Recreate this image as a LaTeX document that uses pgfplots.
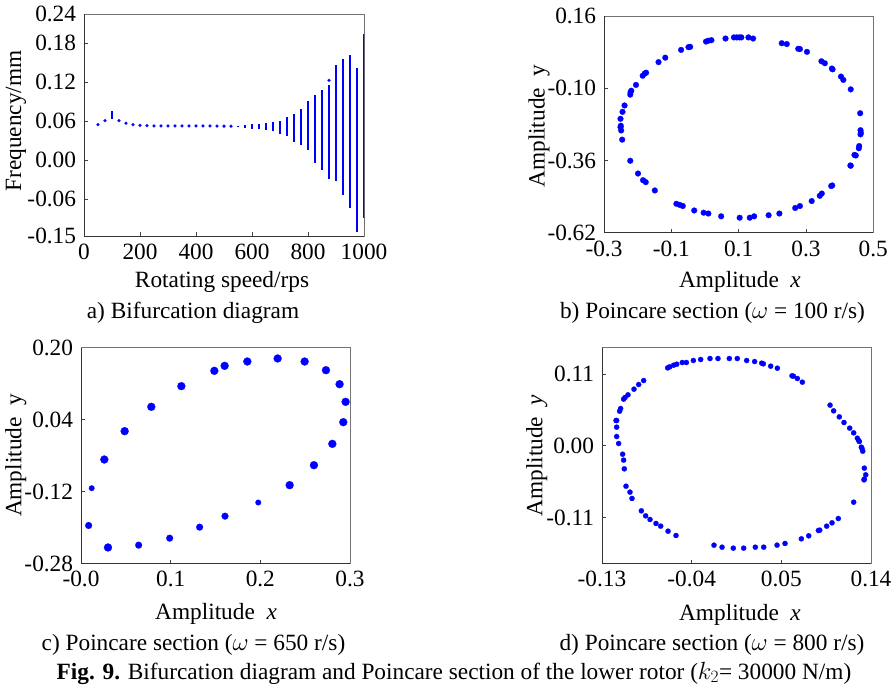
\documentclass[border=0pt]{standalone}
\usepackage{fontspec}
\setmainfont{Liberation Serif}
\usepackage{pgfplots}
\pgfplotsset{compat=1.18}
\pgfplotsset{
  myax/.style={
    scale only axis, anchor=south west,
    axis line style={draw=black!55, line width=0.8pt},
    tick align=inside, xtick pos=left, ytick pos=left,
    major tick length=4pt,
    tick style={draw=black!75, line width=0.8pt},
  },
  mydot/.style={only marks, mark=*, draw=none, fill=blue, mark options={draw=blue, fill=blue, line width=0.2pt}},
}
\newcommand{\darkframe}{\draw[black!80, line width=0.9pt] (rel axis cs:0,1) -- (rel axis cs:0,0) -- (rel axis cs:1,0);}
\begin{document}
\fontsize{23.3}{28}\selectfont
\begin{tikzpicture}
\useasboundingbox (0pt,0pt) rectangle (895pt,-686pt);

% ---------------- a) Bifurcation diagram ----------------
\begin{axis}[myax, at={(84pt,-236pt)}, width=280pt, height=222pt,
  xmin=0, xmax=1000, ymin=-0.117, ymax=0.2246,
  xtick={0,200,400,600,800,1000}, xticklabels={0,200,400,600,800,1000},
  ytick={-0.117,-0.06,0,0.06,0.12,0.18,0.2246},
  yticklabels={-0.15,-0.06,0.00,0.06,0.12,0.18,0.24},
  xlabel={Rotating speed/rps}, ylabel={Frequency/mm},
  xlabel style={at={(axis description cs:0.493,-0.208)}, anchor=center},
  ylabel style={at={(axis description cs:-0.243,0.518)}, anchor=center},
]
\addplot[blue, line width=2.8pt, mark=none, unbounded coords=jump] coordinates {
(100,0.0626) (100,0.0754) (100,nan)
(550,0.0503) (550,0.0528) (550,nan)
(575,0.0487) (575,0.0533) (575,nan)
(600,0.0477) (600,0.0554) (600,nan)
(625,0.0472) (625,0.0559) (625,nan)
(650,0.0456) (650,0.0564) (650,nan)
(675,0.0441) (675,0.0585) (675,nan)
(700,0.0405) (700,0.0605) (700,nan)
(725,0.0374) (725,0.0667) (725,nan)
(750,0.0277) (750,0.0713) (750,nan)
(775,0.0231) (775,0.0790) (775,nan)
(800,0.0154) (800,0.0913) (800,nan)
(825,-0.0041) (825,0.1000) (825,nan)
(850,-0.0159) (850,0.1072) (850,nan)
(875,-0.0292) (875,0.1149) (875,nan)
(900,-0.0323) (900,0.1461) (900,nan)
(925,-0.0538) (925,0.1549) (925,nan)
(950,-0.0733) (950,0.1615) (950,nan)
(975,-0.1103) (975,0.1420) (975,nan)
(1000,-0.0887) (1000,0.1938)
};
\addplot[mydot, mark size=1.5pt] coordinates {
(50,0.0543) (75,0.0605) (125,0.0605) (150,0.0565) (175,0.0543) (200,0.0534)
(225,0.0528) (250,0.0523) (275,0.0523) (300,0.0523) (325,0.0523) (350,0.0523)
(375,0.0523) (400,0.0523) (425,0.0523) (450,0.0523) (475,0.0522) (500,0.0521)
(525,0.0520) (875,0.1226)
};
\darkframe
\end{axis}

% ---------------- b) Poincare 100 ----------------
\begin{axis}[myax, at={(604pt,-232.7pt)}, width=269.3pt, height=216.7pt,
  xmin=-0.3, xmax=0.5, ymin=-0.62, ymax=0.16,
  xtick={-0.3,-0.1,0.1,0.3,0.5}, xticklabels={-0.3,-0.1,0.1,0.3,0.5},
  ytick={-0.62,-0.36,-0.10,0.16}, yticklabels={-0.62,-0.36,-0.10,0.16},
  xlabel={Amplitude\ \ \textit{x}}, ylabel={Amplitude\ \ y},
  xlabel style={at={(axis description cs:0.505,-0.225)}, anchor=center},
  ylabel style={at={(axis description cs:-0.241,0.492)}, anchor=center},
]
\addplot[mydot, mark size=2.9pt] coordinates {
(0.061,0.079) (0.086,0.083) (0.094,0.083) (0.102,0.083) (0.108,0.083) (0.129,0.083) (0.143,0.079)
(0.228,0.062) (0.243,0.059) (0.277,0.042) (0.282,0.041) (0.303,0.031) (0.346,-0.003) (0.356,-0.010)
(0.377,-0.029) (0.379,-0.032) (0.404,-0.058) (0.411,-0.070) (0.433,-0.104)
(0.461,-0.190) (0.462,-0.251) (0.463,-0.260) (0.462,-0.266) (0.458,-0.308) (0.457,-0.316)
(0.444,-0.340) (0.448,-0.342) (0.432,-0.378) (0.433,-0.379)
(0.378,-0.450) (0.375,-0.452) (0.347,-0.479) (0.341,-0.487) (0.317,-0.506) (0.282,-0.524)
(0.268,-0.531) (0.221,-0.551) (0.189,-0.557) (0.146,-0.561) (0.133,-0.566) (0.103,-0.566)
(0.048,-0.561) (0.010,-0.551) (-0.004,-0.548) (-0.032,-0.540) (-0.066,-0.524) (-0.075,-0.520)
(-0.085,-0.516) (-0.149,-0.468) (-0.176,-0.438) (-0.184,-0.431) (-0.199,-0.407) (-0.222,-0.361)
(-0.246,-0.285) (-0.249,-0.252) (-0.251,-0.240) (-0.250,-0.235) (-0.251,-0.210) (-0.245,-0.185)
(-0.239,-0.162) (-0.222,-0.123) (-0.221,-0.114) (-0.219,-0.109) (-0.205,-0.088) (-0.185,-0.055)
(-0.179,-0.047) (-0.175,-0.044)
(-0.138,-0.006) (-0.118,0.010) (-0.071,0.038) (-0.049,0.048) (-0.044,0.049) (0.003,0.068)
(0.010,0.071) (0.019,0.073)
};
\darkframe
\end{axis}

% ---------------- c) Poincare 650 ----------------
\begin{axis}[myax, at={(81pt,-563.5pt)}, width=269pt, height=216pt,
  xmin=0, xmax=0.3, ymin=-0.28, ymax=0.20,
  xtick={0,0.1,0.2,0.3}, xticklabels={-0.0,0.1,0.2,0.3},
  ytick={-0.28,-0.12,0.04,0.20}, yticklabels={-0.28,-0.12,0.04,0.20},
  xlabel={Amplitude\ \ \textit{x}}, ylabel={Amplitude\ \ y},
  xlabel style={at={(axis description cs:0.502,-0.235)}, anchor=center},
  ylabel style={at={(axis description cs:-0.242,0.5)}, anchor=center},
]
\addplot[mydot, mark size=4.0pt] coordinates {
(0.0301,-0.2444) (0.0260,-0.0489) (0.0487,0.0141) (0.0784,0.0682) (0.1119,0.1141)
(0.1487,0.1482) (0.1602,0.1593) (0.1855,0.1689) (0.2193,0.1756) (0.2494,0.1689)
(0.2732,0.1496) (0.2884,0.1185) (0.2951,0.0793) (0.2925,0.0341) (0.2803,-0.0141)
(0.2598,-0.0615) (0.2327,-0.1059)
};
\addplot[mydot, mark size=3.4pt] coordinates {
(0.0085,-0.1955) (0.0643,-0.2392) (0.0989,-0.2237) (0.1323,-0.1992) (0.1606,-0.1748)
};
\addplot[mydot, mark size=2.8pt] coordinates {
(0.0119,-0.1126) (0.1977,-0.1444)
};
\darkframe
\end{axis}

% ---------------- d) Poincare 800 ----------------
\begin{axis}[myax, at={(602pt,-563.5pt)}, width=269pt, height=216pt,
  xmin=-0.13, xmax=0.14, ymin=-0.1802, ymax=0.1506,
  xtick={-0.13,-0.04,0.05,0.14}, xticklabels={-0.13,-0.04,0.05,0.14},
  ytick={-0.11,0,0.11}, yticklabels={-0.11,0.00,0.11},
  xlabel={Amplitude\ \ \textit{x}}, ylabel={Amplitude\ \ \textit{y}},
  xlabel style={at={(axis description cs:0.513,-0.238)}, anchor=center},
  ylabel style={at={(axis description cs:-0.242,0.5)}, anchor=center},
]
\addplot[mydot, mark size=2.6pt] coordinates {
(-0.0641,0.1194) (-0.0621,0.1210) (-0.0581,0.1235) (-0.0550,0.1250) (-0.0494,0.1276)
(-0.0453,0.1276) (-0.0383,0.1307) (-0.0310,0.1322) (-0.0216,0.1337) (-0.0136,0.1337)
(-0.0022,0.1337) (0.0058,0.1337) (0.0152,0.1307) (0.0232,0.1291) (0.0303,0.1266)
(0.0319,0.1256) (0.0393,0.1220) (0.0460,0.1189)
(0.0607,0.1072) (0.0621,0.1067) (0.0661,0.1031) (0.0711,0.0975)
(0.0989,0.0623) (0.1025,0.0536) (0.1082,0.0444) (0.1129,0.0357) (0.1186,0.0271)
(0.1226,0.0199) (0.1263,0.0117) (0.1276,0.0082) (0.1283,0.0066) (0.1303,-0.0020)
(0.1310,-0.0041) (0.1317,-0.0082) (0.1333,-0.0342) (0.1347,-0.0444) (0.1333,-0.0510)
(0.1330,-0.0521) (0.1226,-0.0863)
(0.1072,-0.1113) (0.1009,-0.1179) (0.0955,-0.1230) (0.0885,-0.1291) (0.0872,-0.1296)
(0.0775,-0.1378) (0.0701,-0.1424)
(0.0537,-0.1495) (0.0457,-0.1521) (0.0323,-0.1552) (0.0239,-0.1552) (0.0122,-0.1567)
(0.0018,-0.1567) (-0.0095,-0.1552) (-0.0176,-0.1521)
(-0.0557,-0.1373) (-0.0637,-0.1307) (-0.0711,-0.1230) (-0.0758,-0.1189) (-0.0818,-0.1128)
(-0.0862,-0.1072) (-0.0905,-0.0995) (-0.0999,-0.0806) (-0.1019,-0.0709) (-0.1059,-0.0618)
(-0.1076,-0.0352) (-0.1083,-0.0219) (-0.1093,-0.0128) (-0.1133,0.0036) (-0.1153,0.0143)
(-0.1153,0.0286) (-0.1159,0.0388) (-0.1153,0.0388)
(-0.1123,0.0531) (-0.1113,0.0572) (-0.1083,0.0715) (-0.1069,0.0740) (-0.1039,0.0781)
(-0.0979,0.0868) (-0.0932,0.0939) (-0.0882,0.1000)
};
\darkframe
\end{axis}

% ---------------- captions ----------------
\node at (193pt,-313pt) {a) Bifurcation diagram};
\node at (712.5pt,-313pt) {b) Poincare section ($\omega$ = 100 r/s)};
\node at (193.5pt,-645pt) {c) Poincare section ($\omega$ = 650 r/s)};
\node at (712pt,-645pt) {d) Poincare section ($\omega$ = 800 r/s)};
\node at (454pt,-673pt) {\textbf{Fig. 9.} Bifurcation diagram and Poincare section of the lower rotor ($k_2$= 30000 N/m)};
\end{tikzpicture}
\end{document}
